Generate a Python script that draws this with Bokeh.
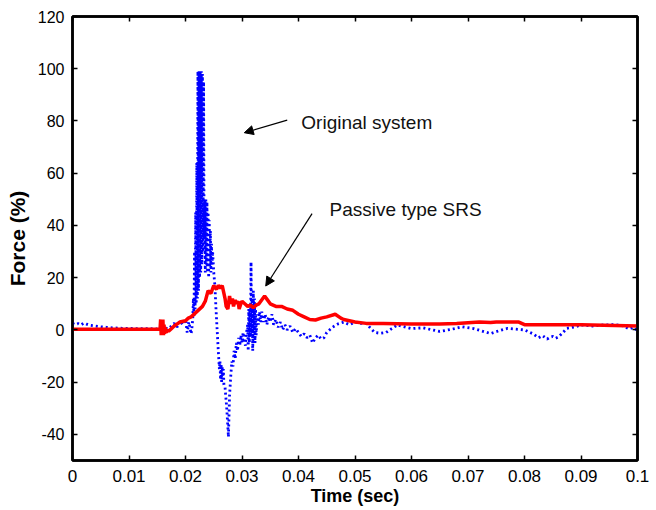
from bokeh.plotting import figure
from bokeh.models import Range1d, FixedTicker, LinearAxis, Arrow, NormalHead, Label
from bokeh.embed import file_html
from bokeh.resources import INLINE

# ---- data ----
orig_t = [0.0, 0.0005, 0.001, 0.0015, 0.002, 0.0025, 0.003, 0.004, 0.005, 0.006, 0.007, 0.009, 0.012, 0.015,
          0.016, 0.017, 0.018, 0.0185, 0.019, 0.0195, 0.020, 0.0203, 0.0206, 0.021, 0.0212,
          0.0213, 0.0214, 0.0215, 0.0216, 0.0217, 0.0218, 0.0219, 0.0220, 0.0221, 0.0222,
          0.0223, 0.0224, 0.0225, 0.0226, 0.0227, 0.0228, 0.0229, 0.0230, 0.0231, 0.0232,
          0.0233, 0.0234, 0.0235, 0.0236, 0.0237, 0.0238, 0.0239, 0.0240, 0.0241, 0.0242,
          0.0243, 0.0244, 0.0245, 0.0246, 0.0247, 0.0248, 0.0250, 0.0252, 0.0254, 0.0256,
          0.0258, 0.0260, 0.0261, 0.0262, 0.0263, 0.0264, 0.0265, 0.0266, 0.0267, 0.0268,
          0.0270, 0.0273, 0.0276, 0.0278, 0.0280, 0.0282, 0.0284, 0.0286, 0.0288, 0.0290,
          0.0292, 0.0294, 0.0296, 0.0298, 0.0300, 0.0302, 0.0304, 0.0306, 0.0308,
          0.0310, 0.0311, 0.0312, 0.0313, 0.0314, 0.0315, 0.0316, 0.0317,
          0.0318, 0.0319, 0.0320, 0.0321, 0.0322, 0.0323, 0.0324, 0.0325, 0.0327, 0.0329,
          0.0331, 0.0333, 0.0335, 0.0338, 0.0341, 0.0344, 0.0347, 0.0350, 0.0353, 0.0356,
          0.0360, 0.0364, 0.0368, 0.0372, 0.0376, 0.0380, 0.0385, 0.0390, 0.0395, 0.0400,
          0.0405, 0.0410, 0.0415, 0.0420, 0.0425, 0.0430, 0.0435, 0.0440, 0.0445, 0.0450,
          0.0460, 0.0470, 0.0480, 0.0490, 0.0500, 0.0510, 0.0520, 0.0528, 0.0535, 0.0545,
          0.0555, 0.0565, 0.0575, 0.0590, 0.0600, 0.0620, 0.0650, 0.0670, 0.0690, 0.0710,
          0.0740, 0.0755, 0.0770, 0.0785, 0.0800, 0.0815, 0.0825, 0.0832, 0.0840, 0.0845,
          0.0850, 0.0855, 0.0860, 0.0868, 0.0875, 0.0890, 0.0900, 0.0920, 0.0940, 0.0960,
          0.0975, 0.0985, 0.0993, 0.1000]
orig_f = [2.5, 2.0, 2.4, 1.9, 2.6, 2.2, 1.8, 1.5, 1.2, 1.0, 0.8, 0.6, 0.5, 0.4,
          0.8, 0.5, 2.5, 1.0, 3.5, 2.0, 4.0, -1.0, 3.0, -1.5, 2.0,
          5.0, 12.0, 5.0, 30.0, 8.0, 45.0, 10.0, 64.0, 12.0, 99.0,
          15.0, 99.0, 20.0, 99.0, 22.0, 99.0, 25.0, 98.0, 30.0, 95.0,
          35.0, 50.0, 22.0, 50.0, 25.0, 49.0, 22.0, 45.0, 20.0, 42.0,
          24.0, 38.0, 22.0, 33.0, 25.0, 30.0, 22.0, 17.0, 8.0, 0.0,
          -8.0, -15.0, -12.0, -19.0, -13.0, -20.0, -14.0, -19.0, -15.0, -21.0,
          -22.0, -30.0, -41.0, -25.0, -18.0, -12.0, -14.0, -8.0, -11.0, -5.0,
          -8.0, -3.0, -6.0, -2.0, -5.0, -1.0, -4.0, -6.0, -1.0,
          2.0, -8.0, 8.0, -5.0, 10.0, -2.0, 26.0, -3.0,
          12.0, -8.0, 15.0, 0.0, 12.0, -5.0, 8.0, -2.0, 6.0, 2.0,
          7.0, 3.0, 7.0, 3.0, 6.0, 2.0, 5.0, 3.0, 6.0, 2.0,
          4.0, 1.0, 3.0, 0.0, 2.0, 0.0, 1.5, -1.0, 0.5, -1.0,
          -2.5, -1.5, -3.0, -2.0, -5.0, -3.0, -2.0, -3.5, -3.0, -1.0,
          1.0, 2.3, 3.0, 2.0, 3.0, 2.5, 2.5, 0.5, -1.0, -1.3,
          -1.0, 0.5, 1.9, 1.0, 0.5, 0.8, -0.6, 0.2, 1.2, 0.5,
          -1.4, -0.3, 0.6, 0.3, 0.0, -1.5, -3.0, -2.2, -3.5, -2.8,
          -2.5, -3.2, -2.7, -1.0, 0.6, 1.2, 1.9, 1.5, 1.9, 2.0,
          1.5, 0.4, 1.0, -0.4]

srs_t = [0.0, 0.0155, 0.0156, 0.0157, 0.0158, 0.0159, 0.0160, 0.0161, 0.0162, 0.0163, 0.0164,
         0.0166, 0.0168, 0.0170, 0.0175, 0.0180, 0.0190, 0.0200, 0.0205, 0.0210, 0.0220, 0.0230,
         0.0235, 0.0240, 0.0245, 0.0250, 0.0255, 0.0258, 0.0262, 0.0265, 0.0268, 0.0270, 0.0272,
         0.0275, 0.0278, 0.0280, 0.0283, 0.0285, 0.0288, 0.0290, 0.0293, 0.0295, 0.0298, 0.0300,
         0.0305, 0.0310, 0.0315, 0.0320, 0.0325, 0.0330, 0.0340, 0.0345, 0.0350, 0.0360, 0.0370,
         0.0380, 0.0390, 0.0400, 0.0410, 0.0420, 0.0430, 0.0440, 0.0450, 0.0465, 0.0475,
         0.0480, 0.0500, 0.0520, 0.0550, 0.0600, 0.0650, 0.0680, 0.0720, 0.0740, 0.0750,
         0.0770, 0.0790, 0.0800, 0.0900, 0.1000]
srs_f = [0.3, 0.3, 4.0, -2.0, 3.0, -1.0, 4.0, -2.0, 2.0, -1.5, 1.0,
         -1.0, 0.0, -0.5, 0.5, 1.5, 3.0, 3.5, 4.5, 5.0, 7.0, 9.0,
         11.0, 15.0, 14.0, 17.0, 15.5, 17.0, 16.0, 17.0, 14.0, 12.0, 9.0,
         8.0, 13.0, 10.0, 12.0, 9.0, 11.5, 10.0, 11.0, 8.0, 10.0, 11.0,
         10.0, 9.0, 9.5, 8.5, 9.5, 10.0, 13.0, 11.5, 10.0, 9.0, 9.0,
         8.0, 7.5, 6.0, 5.0, 4.0, 3.8, 4.5, 5.0, 6.0, 4.5,
         4.0, 3.0, 2.5, 2.5, 2.3, 2.3, 2.5, 3.0, 2.8, 3.0,
         3.0, 3.0, 2.0, 2.0, 1.5]

x_ticks = [0.0, 0.01, 0.02, 0.03, 0.04, 0.05, 0.06, 0.07, 0.08, 0.09, 0.1]
x_tick_labels = ["0", "0.01", "0.02", "0.03", "0.04", "0.05", "0.06", "0.07", "0.08", "0.09", "0.1"]
y_ticks = [-40, -20, 0, 20, 40, 60, 80, 100, 120]
y_tick_labels = ["-40", "-20", "0", "20", "40", "60", "80", "100", "120"]

FONT = "Liberation Sans"

p = figure(width=656, height=510, output_backend="svg", toolbar_location=None,
           x_range=Range1d(0, 0.1), y_range=Range1d(-50, 120))
p.min_border_left = 72
p.min_border_right = 19
p.min_border_top = 16
p.min_border_bottom = 50
p.grid.visible = False
p.outline_line_color = "black"
p.outline_line_width = 2.5

p.line(orig_t, orig_f, line_color="#0000ff", line_width=2.8, line_dash="2 3")
p.line(srs_t, srs_f, line_color="#ff0000", line_width=3.5)

def style(ax, labels=True, size="15px"):
    ax.axis_line_width = 2.5
    ax.major_tick_in = 5
    ax.major_tick_out = 0
    ax.minor_tick_line_color = None
    ax.major_tick_line_width = 1.5
    ax.major_label_text_font = FONT
    ax.major_label_text_font_size = size
    ax.major_label_text_color = "black" if labels else None
    ax.axis_label_text_font = FONT
    ax.axis_label_text_font_style = "bold"
    ax.axis_label_text_color = "black"

xa = p.xaxis[0]
xa.ticker = FixedTicker(ticks=x_ticks)
xa.major_label_overrides = {t: l for t, l in zip(x_ticks, x_tick_labels)}
xa.axis_label = "Time (sec)"
style(xa, size="17px")
xa.axis_label_text_font_size = "18px"
xa.axis_label_standoff = 1
xa.major_label_standoff = 9

ya = p.yaxis[0]
ya.ticker = FixedTicker(ticks=y_ticks)
ya.major_label_overrides = {t: l for t, l in zip(y_ticks, y_tick_labels)}
ya.axis_label = "Force (%)"
style(ya, size="16px")
ya.axis_label_text_font_size = "21px"
ya.axis_label_standoff = 6
ya.major_label_standoff = 8

ra = LinearAxis(ticker=FixedTicker(ticks=y_ticks))
style(ra, labels=False)
p.add_layout(ra, "right")
ta = LinearAxis(ticker=FixedTicker(ticks=x_ticks))
style(ta, labels=False)
p.add_layout(ta, "above")

p.add_layout(Arrow(end=NormalHead(size=9, fill_color="black", line_color="black"),
                   x_start=0.0380, y_start=80.3, x_end=0.0304, y_end=75.5,
                   line_width=1.2, line_color="black"))
p.add_layout(Arrow(end=NormalHead(size=9, fill_color="black", line_color="black"),
                   x_start=0.0424, y_start=44.5, x_end=0.0342, y_end=16.8,
                   line_width=1.2, line_color="black"))
p.add_layout(Label(x=0.0405, y=79.6, text="Original system", text_font=FONT,
                   text_font_size="19px", text_baseline="middle", text_color="#111111"))
p.add_layout(Label(x=0.0455, y=46.2, text="Passive type SRS", text_font=FONT,
                   text_font_size="19px", text_baseline="middle", text_color="#111111"))

open("out.html", "w").write(file_html(p, INLINE))
